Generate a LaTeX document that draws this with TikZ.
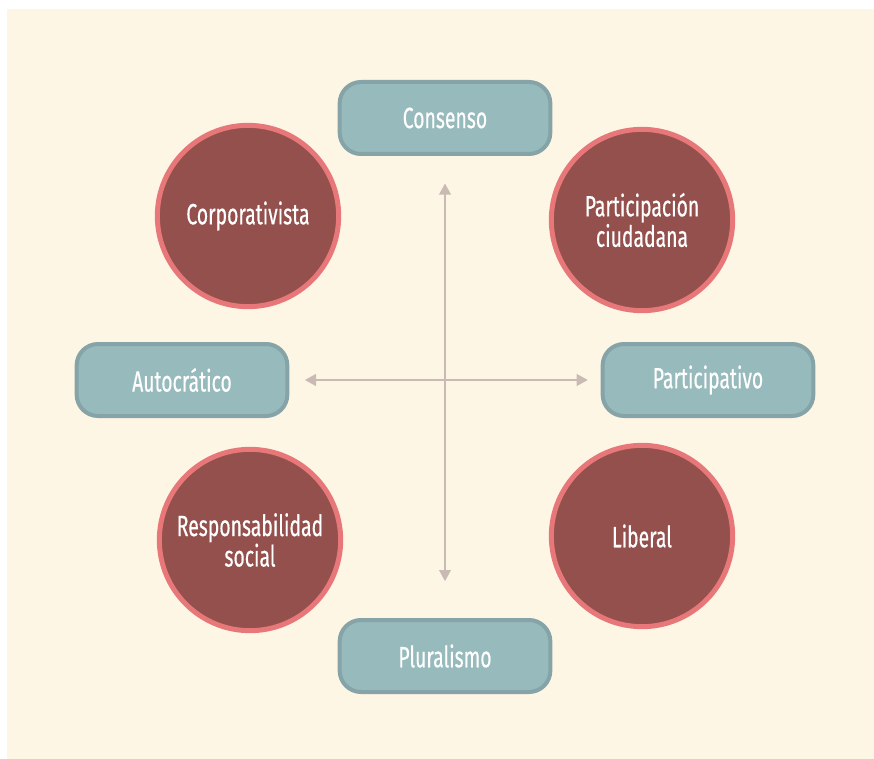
\documentclass[tikz,border=0pt]{standalone}
\usepackage{fontspec}
\setmainfont[FakeStretch=0.66, FakeBold=0.4]{Fira Sans}
\usetikzlibrary{arrows.meta}
\definecolor{paper}{HTML}{FDF6E5}
\definecolor{polefill}{HTML}{97BABC}
\definecolor{poleline}{HTML}{86A4A7}
\definecolor{modelfill}{HTML}{93504D}
\definecolor{modelline}{HTML}{E8777A}
\definecolor{axisline}{HTML}{C9BBB3}
\tikzset{every picture/.style={/utils/exec={\rmfamily}, line width=0.75pt}}

\begin{document}
\begin{tikzpicture}[x=0.75pt,y=0.75pt,yscale=-1,xscale=1]

     \tikzstyle{pole} = [rounded corners=16pt,
						fill = polefill,
						draw = poleline,
						line width = 3pt,
						minimum width = 158pt,
						minimum height = 54pt,
						inner sep = 0pt,
						outer sep = 0pt,
						text = white,
						font = \fontsize{22}{21}\selectfont
						]
     \tikzstyle{model} = [circle,
						fill = modelfill,
						draw = modelline,
						line width = 3.75pt,
						minimum size = 136pt,
						inner sep = 0pt,
						align = center,
						text = white,
						font = \fontsize{22}{21}\selectfont
						]
     \tikzstyle{axis} = [draw = axisline, line width = 2.2pt,
						{Triangle[width=8.5pt,length=8.5pt]}-{Triangle[width=8.5pt,length=8.5pt]}]

\fill[paper] (7,9) rectangle (874,759);
\useasboundingbox (0,0) rectangle (874,759);

\node [pole] (cons) at (445,118) {Consenso};
\node [pole] (plur) at (445,656) {Pluralismo};
\node [pole] (auto) at (182,380) {Autocrático};
\node [pole] (part) at (708,380) {Participativo};
\node [model] (corp) at (248,216) {Corporativista};
\node [model] (ciud) at (642,220) {Participación\\ciudadana};
\node [model] (resp) at (250,540) {Responsabilidad\\social};
\node [model] (libe) at (642,536) {Liberal};

\draw[axis, shorten <=22pt, shorten >=29pt] (cons) -- (plur);
\draw[axis, shorten <=13pt, shorten >=11pt] (auto) -- (part);

\end{tikzpicture}
\end{document}
